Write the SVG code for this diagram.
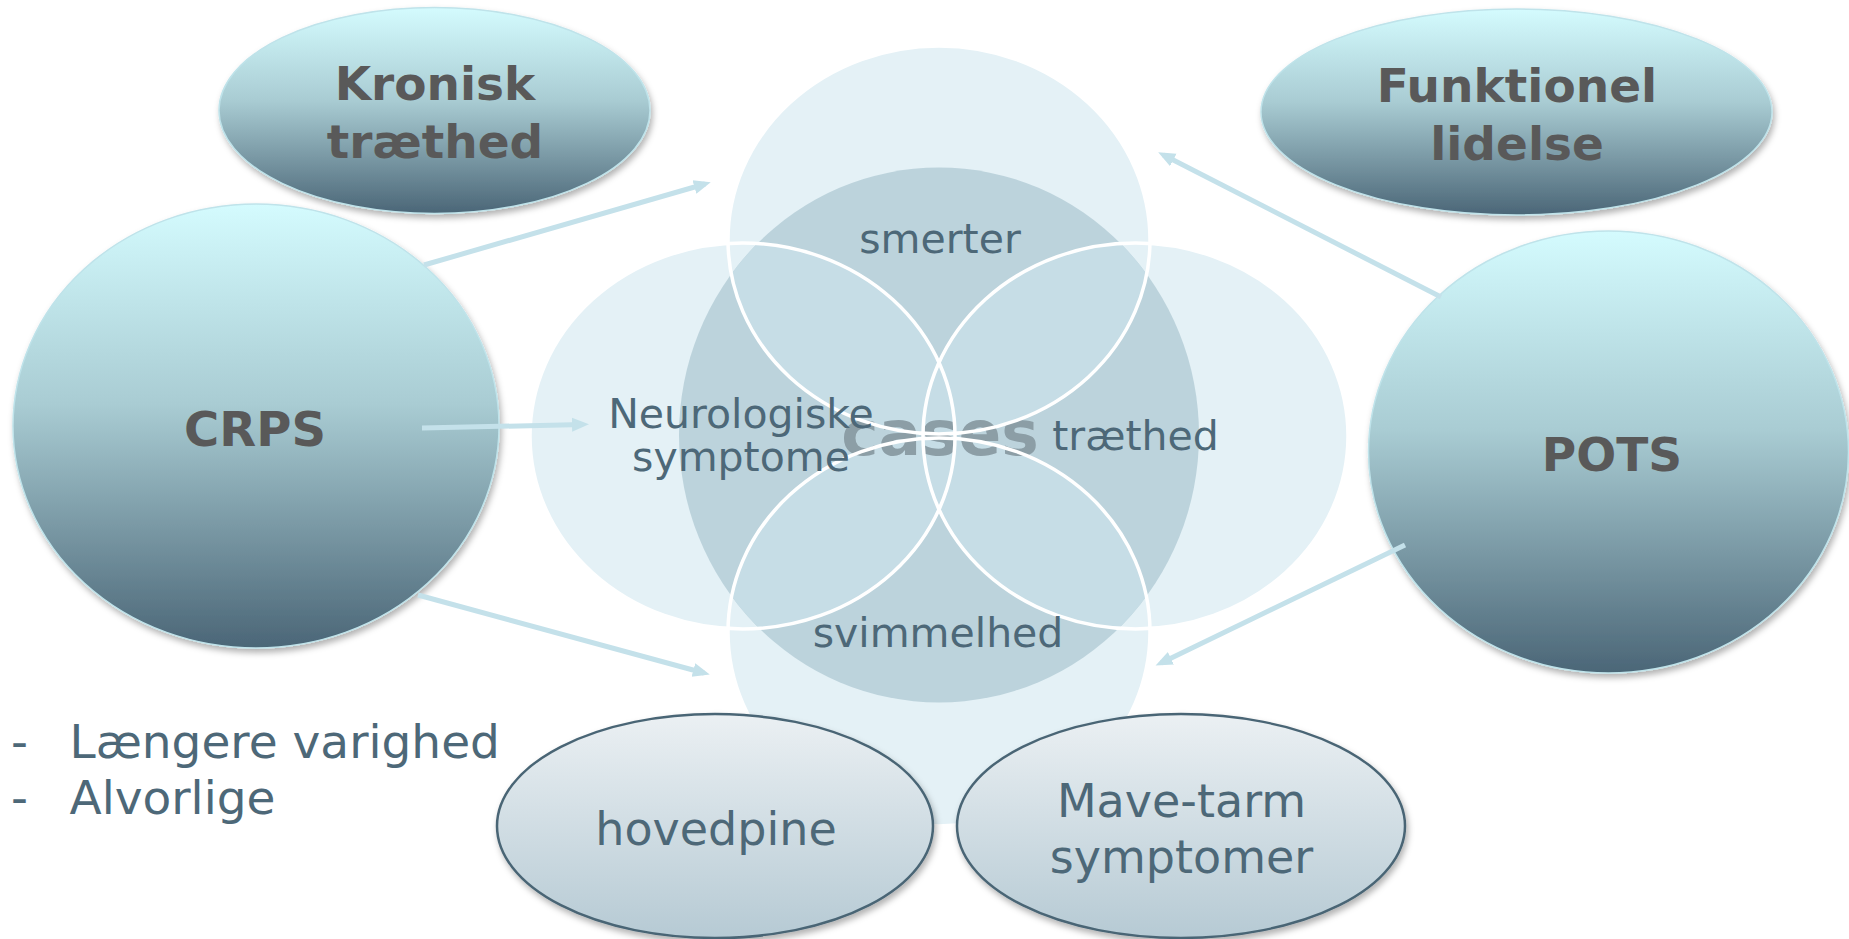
<svg xmlns="http://www.w3.org/2000/svg" width="1849" height="939" viewBox="0 0 1849 939">
<style>
.venn-light{fill:#e4f1f6}
.venn-stroke{fill:none;stroke:#ffffff;stroke-width:3.5}
.lbl{font-family:'DejaVu Sans',Verdana,sans-serif;fill:#4d6878;text-anchor:middle}
.bold{font-family:'DejaVu Sans',Verdana,sans-serif;font-weight:bold;fill:#595959;text-anchor:middle}
.topnode{fill:url(#gTop);stroke:#bfe3ea;stroke-width:1.5;filter:url(#sh)}
.botnode{fill:url(#gBot);stroke:#4a6575;stroke-width:2.5;filter:url(#sh)}
.conn{stroke:#c4e1ea;stroke-width:5;fill:none;marker-end:url(#ah)}
</style>
<defs>
<linearGradient id="gTop" x1="0" y1="0" x2="0" y2="1">
<stop offset="0" stop-color="#d4fbfe"/>
<stop offset="0.45" stop-color="#a9ccd3"/>
<stop offset="1" stop-color="#4b6677"/>
</linearGradient>
<linearGradient id="gBot" x1="0" y1="0" x2="0" y2="1">
<stop offset="0" stop-color="#ebf0f3"/>
<stop offset="1" stop-color="#b6cad4"/>
</linearGradient>
<filter id="sh" x="-10%" y="-10%" width="125%" height="130%">
<feDropShadow dx="2" dy="4" stdDeviation="3" flood-color="#000" flood-opacity="0.3"/>
</filter>
<marker id="ah" markerWidth="5" markerHeight="5" refX="2.2" refY="2" orient="auto" markerUnits="strokeWidth">
<path d="M0,0.6 L3.4,2 L0,3.4 Z" fill="#c4e1ea"/>
</marker>
<clipPath id="cTop"><ellipse cx="939" cy="240" rx="211" ry="194"/></clipPath>
<clipPath id="cLeft"><ellipse cx="742.5" cy="436" rx="212.5" ry="193"/></clipPath>
<clipPath id="cRight"><ellipse cx="1135.5" cy="436" rx="212.5" ry="193"/></clipPath>
<clipPath id="cBottom"><ellipse cx="939" cy="632" rx="211" ry="194"/></clipPath>
<clipPath id="cCenter"><ellipse cx="939" cy="435" rx="260" ry="267.5"/></clipPath>
</defs>

<g id="venn">
<ellipse class="venn-light" cx="939" cy="240" rx="211" ry="194"/>
<ellipse class="venn-light" cx="742.5" cy="436" rx="212.5" ry="193"/>
<ellipse class="venn-light" cx="1135.5" cy="436" rx="212.5" ry="193"/>
<ellipse class="venn-light" cx="939" cy="632" rx="211" ry="194"/>
<ellipse cx="939" cy="435" rx="260" ry="267.5" fill="#bcd3dc"/>
<g clip-path="url(#cCenter)">
<g clip-path="url(#cTop)"><ellipse cx="742.5" cy="436" rx="212.5" ry="193" fill="#c6dde6"/><ellipse cx="1135.5" cy="436" rx="212.5" ry="193" fill="#c6dde6"/></g>
<g clip-path="url(#cBottom)"><ellipse cx="742.5" cy="436" rx="212.5" ry="193" fill="#c6dde6"/><ellipse cx="1135.5" cy="436" rx="212.5" ry="193" fill="#c6dde6"/></g>
</g>
<text x="940" y="455" font-size="63" font-family="'DejaVu Sans',Verdana,sans-serif" font-weight="bold" fill="#8c9ea6" text-anchor="middle">cases</text>
<ellipse class="venn-stroke" cx="939" cy="240" rx="211" ry="194"/>
<ellipse class="venn-stroke" cx="742.5" cy="436" rx="212.5" ry="193"/>
<ellipse class="venn-stroke" cx="1135.5" cy="436" rx="212.5" ry="193"/>
<ellipse class="venn-stroke" cx="939" cy="632" rx="211" ry="194"/>
<text class="lbl" x="940" y="253" font-size="41">smerter</text>
<text class="lbl" x="741" y="428" font-size="41">Neurologiske</text>
<text class="lbl" x="741" y="471" font-size="41">symptome</text>
<text class="lbl" x="1135.5" y="450" font-size="41">træthed</text>
<text class="lbl" x="938" y="647" font-size="41">svimmelhed</text>
</g>

<g id="kronisk">
<ellipse class="topnode" cx="434.5" cy="110.5" rx="215.5" ry="103"/>
<text class="bold" x="435" y="100" font-size="47">Kronisk</text>
<text class="bold" x="435" y="158" font-size="47">træthed</text>
</g>

<g id="funktionel">
<ellipse class="topnode" cx="1516.5" cy="112" rx="255.5" ry="103"/>
<text class="bold" x="1517" y="102" font-size="47">Funktionel</text>
<text class="bold" x="1517" y="160" font-size="47">lidelse</text>
</g>

<g id="crps">
<ellipse class="topnode" cx="256" cy="426" rx="243" ry="222"/>
<text class="bold" x="255" y="446" font-size="48">CRPS</text>
</g>

<g id="pots">
<ellipse class="topnode" cx="1608.5" cy="452" rx="240" ry="221"/>
<text class="bold" x="1612" y="471" font-size="47">POTS</text>
</g>

<g id="hovedpine">
<ellipse class="botnode" cx="715" cy="826" rx="218" ry="112"/>
<text class="lbl" x="716" y="845" font-size="46">hovedpine</text>
</g>

<g id="mave">
<ellipse class="botnode" cx="1181" cy="826" rx="224" ry="112"/>
<text class="lbl" x="1181.5" y="817" font-size="46">Mave-tarm</text>
<text class="lbl" x="1181.5" y="873" font-size="46">symptomer</text>
</g>

<g id="notes">
<text x="11" y="758" font-size="47" font-family="'DejaVu Sans',Verdana,sans-serif" fill="#4d6878">-</text>
<text x="69.5" y="758" font-size="47" font-family="'DejaVu Sans',Verdana,sans-serif" fill="#4d6878">Længere varighed</text>
<text x="11" y="814" font-size="47" font-family="'DejaVu Sans',Verdana,sans-serif" fill="#4d6878">-</text>
<text x="69.5" y="814" font-size="47" font-family="'DejaVu Sans',Verdana,sans-serif" fill="#4d6878">Alvorlige</text>
</g>

<g id="connectors">
<line class="conn" x1="424" y1="265" x2="705" y2="184"/>
<line class="conn" x1="422" y1="428" x2="583" y2="424.5"/>
<line class="conn" x1="418" y1="595" x2="704" y2="673"/>
<line class="conn" x1="1441" y1="297" x2="1163.5" y2="155"/>
<line class="conn" x1="1405" y1="545" x2="1161" y2="663"/>
</g>
</svg>
